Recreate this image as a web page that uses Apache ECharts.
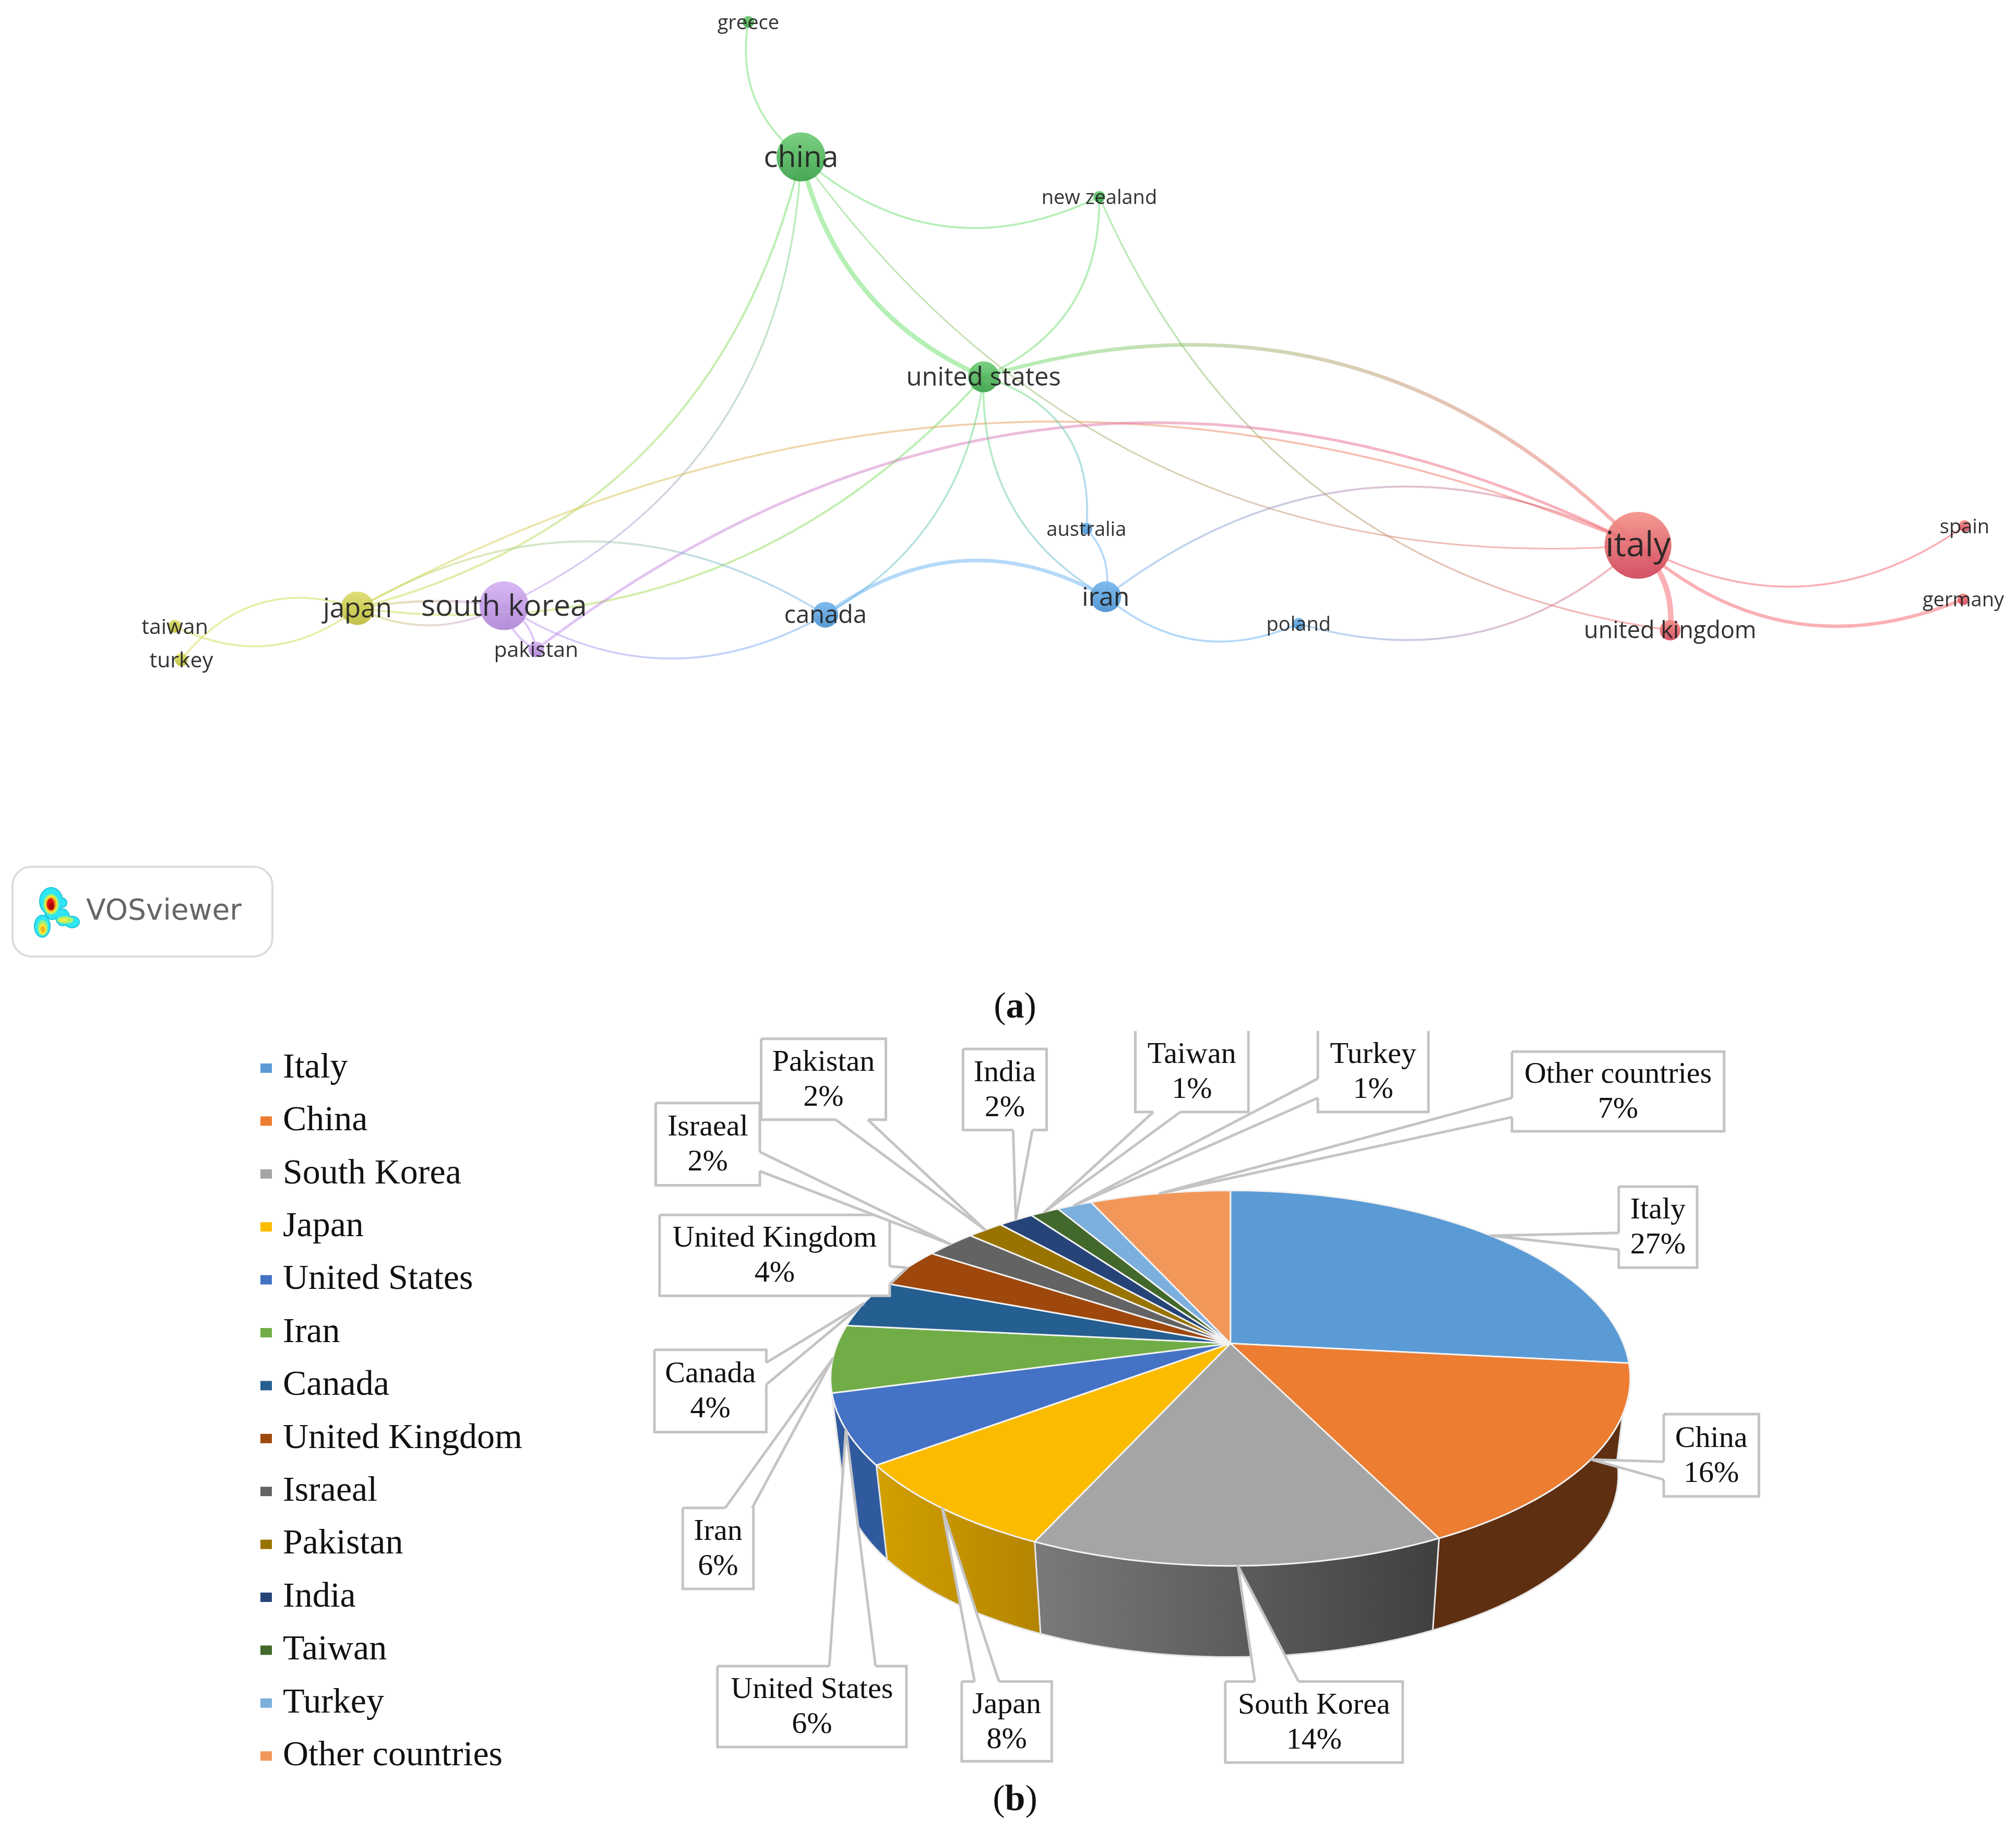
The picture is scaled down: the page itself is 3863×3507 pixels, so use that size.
<!DOCTYPE html>
<html>
<head>
<meta charset="utf-8">
<style>html,body{margin:0;padding:0;background:#fff}#c{width:3863px;height:3507px}</style>
<script src="https://cdn.jsdelivr.net/npm/echarts@6/dist/echarts.min.js"></script>
</head>
<body>
<div id="c"></div>
<script>
// ---------- DATA: (a) co-authorship network ----------
const nodeNames   = ['greece','china','new zealand','united states','italy','spain','germany','united kingdom','iran','poland','australia','canada','south korea','japan','pakistan','taiwan','turkey'];
const nodeX       = [582,623,855,765,1274,1528,1527,1299,860,1010,845,642,392,278,417,136,141];
const nodeY       = [17,122,153,293,424,409,466,490,464,485,411,478,471,473,505,487,513];
const nodeWeight  = [9,38,9,24,52,9,9,16,24,9,9,20,38,26,12,10,10];
const nodeCluster = ['green','green','green','green','red','red','red','red','blue','blue','blue','blue','purple','yellow','purple','yellow','yellow'];
const edgeSource  = ['greece','china','china','china','united states','new zealand','new zealand','china','china','united states','japan','pakistan','japan','south korea','japan','japan','taiwan','turkey','south korea','south korea','canada','united states','united states','united states','australia','iran','iran','poland','italy','italy','italy'];
const edgeTarget  = ['china','new zealand','united states','italy','italy','united kingdom','united states','japan','south korea','japan','italy','italy','canada','canada','south korea','south korea','japan','japan','pakistan','pakistan','iran','canada','iran','australia','iran','italy','poland','italy','united kingdom','spain','germany'];
const edgeWeight  = [1,1,4,0.6,3,0.8,1,1.2,0.8,1.2,1,1.8,1,1,1,1.6,1,1,1.2,1.2,3,1,1,1,1,1,1,1,5,1,2.6];
const edgeBend    = [-0.3,-0.33,-0.25,-0.28,0.3,-0.28,0.33,0.3,0.3,0.26,0.24,0.31,0.3,-0.3,-0.25,0.08,-0.31,0.35,0.25,-0.25,0.32,0.25,-0.3,0.4,0.25,0.31,-0.31,-0.28,0.25,-0.31,-0.31];

// ---------- DATA: (b) country shares ----------
const pieNames    = ['Italy','China','South Korea','Japan','United States','Iran','Canada','United Kingdom','Israeal','Pakistan','India','Taiwan','Turkey','Other countries'];
const pieValues   = [27,16,14,8,6,6,4,4,2,2,2,1,1,7];                 // as printed on the callouts
const pieMeasured = [26.7,16,14.1,8,6,5.8,4.15,3.45,2.45,1.75,1.7,1.4,1.7,6.8]; // slice sizes

// ---------- STYLES & LAYOUT ----------
const S = 3863 / 1568;                         // picture units -> page px
const pieColors = ['#5b9bd5','#ed7d31','#a5a5a5','#fbbc00','#4472c4','#70ad47','#255e91','#9e480e','#636363','#997300','#264478','#43682b','#7cafdd','#f1975a'];
const sideFills = {
  1: '#5e2f11',
  2: new echarts.graphic.LinearGradient(0,0,1,0,[{offset:0,color:'#7a7a7a'},{offset:1,color:'#3f3f3f'}]),
  3: new echarts.graphic.LinearGradient(0,0,1,0,[{offset:0,color:'#d2a000'},{offset:1,color:'#b48400'}]),
  4: '#2f5a9e'
};
const clusterEdge = {green:'90,220,90',red:'245,80,90',blue:'90,170,240',yellow:'205,215,60',purple:'185,130,240'};
const clusterNode = {
  green:['#6fcc76','#3aa048'], red:['#f59088','#cf4459'], blue:['#74b6ec','#4a90cf'],
  yellow:['#dcdc6c','#bcbc3a'], purple:['#d4b2f2','#ae84d6']
};
const labelSize = {'italy':65,'china':57,'south korea':57,'japan':51,'united states':49,'iran':50,'canada':47,'united kingdom':45,'pakistan':41,'taiwan':41,'turkey':41};
// callout boxes [x0,y0,x1,y1], wedge base pair on the box edge, in picture units
const callouts = [
  {box:[1259,923,1320,986],  base:[[1259,959],[1259,972]]},
  {box:[1294,1100,1368,1164],base:[[1294,1137],[1294,1151]]},
  {box:[953,1308,1091,1371], base:[[976,1308],[1010,1308]]},
  {box:[748,1308,818,1370],  base:[[758,1308],[777,1308]]},
  {box:[558,1296,705,1359],  base:[[645,1296],[681,1296]]},
  {box:[531,1173,586,1236],  base:[[564,1173],[585,1173]]},
  {box:[509,1050,596,1114],  base:[[596,1060],[596,1077]]},
  {box:[513,945,692,1008],   base:[[692,985],[692,999]]},
  {box:[510,858,591,922],    base:[[591,896],[591,911]]},
  {box:[592,808,689,871],    base:[[650,871],[675,871]]},
  {box:[749,816,814,879],    base:[[788,879],[803,879]]},
  {box:[883,802,971,865],    base:[[897,865],[918,865]], open:true},
  {box:[1025,802,1111,865],  base:[[1025,839],[1025,854]], open:true},
  {box:[1176,818,1341,880],  base:[[1176,854],[1176,869]]}
];
const K = 0.185, SIDE_SCALE = 0.97, SIDE_DROP = 0.54;
const serif = '"Liberation Serif"';
// VOSviewer logo heat blobs: centre x, centre y, radius x, radius y, colour (in px)
const logoBlobs = [
  [98,1727,23,27,'#1fc3d8'],[119,1730,10,10,'#1fc3d8'],[81,1775,16,22,'#1fc3d8'],[120,1758,14,17,'#1fc3d8'],[138,1767,15,12,'#1fc3d8'],[100,1748,15,15,'#1fc3d8'],
  [98,1727,21,25,'#2fe6f2'],[119,1730,8,8,'#2fe6f2'],[81,1775,14,20,'#2fe6f2'],[120,1758,12,15,'#2fe6f2'],[138,1767,13,10,'#2fe6f2'],[100,1748,12,13,'#2fe6f2'],
  [98,1733,15,20,'#8ef08a'],[82,1778,10,15,'#8ef08a'],[125,1763,16,7,'#a8f070'],
  [98,1733,12,17,'#f2ee3a'],[82,1780,7,11,'#f2e838'],[122,1763,8,4,'#e8f04a'],
  [98,1733,10,14,'#f59a1c'],[82,1781,4,6,'#f5b01c'],
  [97,1733,7,11,'#d81414'],[99,1737,5,7,'#a80808']
];

const total = pieMeasured.reduce((a,b)=>a+b,0);
const cum = []; pieMeasured.reduce((a,v,i)=>(cum[i]=a,a+v),0);
// tilted-disc projection of a share position onto the hidden pie axes
function disc(share, scale, drop){
  const t = share/total*2*Math.PI, den = 1+K*Math.cos(t);
  return [scale*Math.sin(t)/den, scale*Math.cos(t)/den - drop];
}
function arc(api, from, to, scale, drop){
  const pts=[], n=Math.max(6,Math.ceil((to-from)*2));
  for(let j=0;j<=n;j++) pts.push(api.coord(disc(from+(to-from)*j/n,scale,drop)));
  return pts;
}

const nodes = nodeNames.map((name,i)=>{
  const c = clusterNode[nodeCluster[i]];
  return {
    name, value:[nodeX[i],nodeY[i]], symbolSize:nodeWeight[i]*S,
    itemStyle:{opacity:0.92,color:new echarts.graphic.LinearGradient(0,0,0,1,[{offset:0,color:c[0]},{offset:1,color:c[1]}])},
    label:{fontSize:labelSize[name]||38}
  };
});
const links = edgeSource.map((s,i)=>{
  const a=nodeNames.indexOf(s), b=nodeNames.indexOf(edgeTarget[i]);
  const ca=clusterEdge[nodeCluster[a]], cb=clusterEdge[nodeCluster[b]];
  return {
    source:s, target:edgeTarget[i],
    lineStyle:{
      width:2+1.7*edgeWeight[i], curveness:edgeBend[i], opacity:1,
      color:new echarts.graphic.LinearGradient(nodeX[a]*S,nodeY[a]*S,nodeX[b]*S,nodeY[b]*S,
        [{offset:0,color:`rgba(${ca},0.45)`},{offset:1,color:`rgba(${cb},0.45)`}],true)
    }
  };
});
const pieRows = pieValues.map((v,i)=>[i,v,pieMeasured[i]]);

const chart = echarts.init(document.getElementById('c'));
chart.setOption({
  animation:false,
  backgroundColor:'#fff',
  grid:[
    {id:'net',left:0,top:0,width:3863,height:3507,show:false},
    {id:'pie',left:(957-305.6)*S,top:(1045-141)*S,width:611.2*S,height:282*S,show:false}
  ],
  xAxis:[
    {type:'value',gridIndex:0,min:0,max:1568,show:false},
    {type:'value',gridIndex:1,min:-1,max:1,show:false}
  ],
  yAxis:[
    {type:'value',gridIndex:0,min:0,max:1423,inverse:true,show:false},
    {type:'value',gridIndex:1,min:-1,max:1,show:false}
  ],
  legend:{
    data:pieNames, orient:'vertical', left:499, top:2013, padding:0,
    icon:'rect', itemWidth:22, itemHeight:18, itemGap:33.4, selectedMode:false,
    textStyle:{fontFamily:serif,fontSize:68,color:'#111',lineHeight:68,padding:[0,0,0,16]},
    formatter:n=>n
  },
  series:[
    {
      type:'graph', coordinateSystem:'cartesian2d', xAxisIndex:0, yAxisIndex:0,
      layout:'none', roam:false, silent:true, z:2,
      data:nodes, links,
      label:{show:true,position:'inside',fontFamily:'"Open Sans"',color:'#222',offset:[0,3]},
      lineStyle:{opacity:1}, emphasis:{disabled:true}
    },
    { // legend provider only; the visible pie is drawn by the custom series below
      type:'pie', radius:[0,0], center:[2358,2574], silent:true, z:1,
      label:{show:false}, labelLine:{show:false},
      data:pieNames.map((name,i)=>({name,value:pieValues[i],itemStyle:{color:pieColors[i]}}))
    },
    { // side wall
      type:'custom', xAxisIndex:1, yAxisIndex:1, coordinateSystem:'cartesian2d', clip:false, silent:true, z:3,
      data:pieRows,
      renderItem(p,api){
        const i=api.value(0), v=api.value(2), fill=sideFills[i];
        if(!fill) return null;
        const top=arc(api,cum[i],cum[i]+v,1,0), low=arc(api,cum[i],cum[i]+v,SIDE_SCALE,SIDE_DROP).reverse();
        return {type:'polygon',shape:{points:top.concat(low)},style:{fill,stroke:'#e4e4e4',lineWidth:3}};
      }
    },
    { // top face
      type:'custom', xAxisIndex:1, yAxisIndex:1, coordinateSystem:'cartesian2d', clip:false, silent:true, z:4,
      data:pieRows,
      renderItem(p,api){
        const i=api.value(0), v=api.value(2);
        const pts=[api.coord([0,0])].concat(arc(api,cum[i],cum[i]+v,1,0));
        return {type:'polygon',shape:{points:pts},style:{fill:pieColors[i],stroke:'#f2f2f2',lineWidth:3,lineJoin:'round'}};
      }
    },
    { // callouts
      type:'custom', xAxisIndex:1, yAxisIndex:1, coordinateSystem:'cartesian2d', clip:false, silent:true, z:5,
      data:pieRows,
      renderItem(p,api){
        const i=api.value(0), v=api.value(2), c=callouts[i];
        const tip=api.coord(disc(cum[i]+v/2,1,0));
        const [x0,y0,x1,y1]=c.box.map(n=>n*S);
        const b0=[c.base[0][0]*S,c.base[0][1]*S], b1=[c.base[1][0]*S,c.base[1][1]*S];
        const gray='#c4c4c4', lw=5;
        const frame=c.open?[[x0,y0],[x0,y1],[x1,y1],[x1,y0]]:[[x0,y0],[x1,y0],[x1,y1],[x0,y1],[x0,y0]];
        return {type:'group',children:[
          {type:'polygon',shape:{points:[[x0,y0],[x1,y0],[x1,y1],[x0,y1]]},style:{fill:'#fff'}},
          {type:'polyline',shape:{points:frame},style:{fill:null,stroke:gray,lineWidth:lw}},
          {type:'polygon',shape:{points:[b0,tip,b1]},style:{fill:'#fff'}},
          {type:'polyline',shape:{points:[b0,b1]},style:{fill:null,stroke:'#fff',lineWidth:lw+2}},
          {type:'polyline',shape:{points:[b0,tip,b1]},style:{fill:null,stroke:gray,lineWidth:lw,lineJoin:'round'}},
          {type:'text',style:{
            text:pieNames[i]+'\n'+api.value(1)+'%', x:(x0+x1)/2, y:(y0+y1)/2+2, align:'center', verticalAlign:'middle',
            fontFamily:serif, fontSize:58, lineHeight:67, fill:'#111'
          }}
        ]};
      }
    }
  ],
  graphic:{elements:[
    {type:'rect',shape:{x:24,y:1661,width:498,height:172,r:36},style:{fill:'#fff',stroke:'#dcdcdc',lineWidth:4},silent:true},
    {type:'text',style:{text:'VOSviewer',x:165,y:1748,verticalAlign:'middle',fontFamily:'"DejaVu Sans"',fontSize:55,fill:'#666'},silent:true}
  ].concat(logoBlobs.map(b=>({type:'ellipse',shape:{cx:b[0],cy:b[1],rx:b[2],ry:b[3]},style:{fill:b[4]},silent:true}))).concat([
    {type:'text',style:{x:1945,y:1932,align:'center',verticalAlign:'middle',
      text:'{p|(}{b|a}{p|)}',rich:{p:{fontFamily:serif,fontSize:70,fill:'#111'},b:{fontFamily:serif,fontSize:70,fontWeight:'bold',fill:'#111'}}},silent:true},
    {type:'text',style:{x:1945,y:3451,align:'center',verticalAlign:'middle',
      text:'{p|(}{b|b}{p|)}',rich:{p:{fontFamily:serif,fontSize:70,fill:'#111'},b:{fontFamily:serif,fontSize:70,fontWeight:'bold',fill:'#111'}}},silent:true}
  ])}
});
</script>
</body>
</html>
